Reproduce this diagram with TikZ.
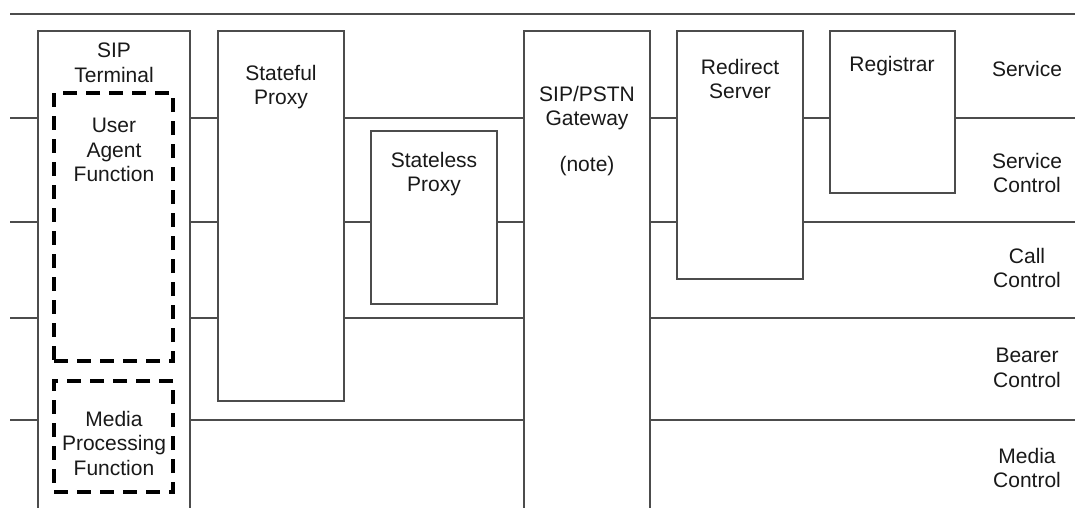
\documentclass[tikz,border=0pt]{standalone}
\usepackage{fontspec}
\setmainfont{Liberation Sans}
\begin{document}
\begin{tikzpicture}[x=1pt,y=-1pt,
  lay/.style={draw=black!70, line width=1.1pt},
  box/.style={draw=black!70, line width=1.1pt, fill=white, rectangle, anchor=north west, inner sep=0pt, outer sep=0pt},
  dbox/.style={draw=black, line width=3.2pt, dash pattern=on 14pt off 9pt, fill=white, rectangle, anchor=north west, inner sep=0pt, outer sep=0pt},
  lbl/.style={align=center, inner sep=0pt, text=black!90, font=\fontsize{21}{24.5}\selectfont}]
\useasboundingbox (0,0) rectangle (1075,507);
\clip (0,0) rectangle (1075,507);
\fill[white] (0,0) rectangle (1075,507);
% layer lines
\coordinate (l0a) at (10,14);  \coordinate (l0b) at (1075,14);
\coordinate (l1a) at (10,118); \coordinate (l1b) at (1075,118);
\coordinate (l2a) at (10,222); \coordinate (l2b) at (1075,222);
\coordinate (l3a) at (10,318); \coordinate (l3b) at (1075,318);
\coordinate (l4a) at (10,420); \coordinate (l4b) at (1075,420);
\draw[lay] (l0a) -- (l0b);
\draw[lay] (l1a) -- (l1b);
\draw[lay] (l2a) -- (l2b);
\draw[lay] (l3a) -- (l3b);
\draw[lay] (l4a) -- (l4b);
% boxes
\node[box, minimum width=152pt, minimum height=500pt] (term) at (38,31) {};
\node[dbox, minimum width=119pt, minimum height=268pt] (ua) at (54,93) {};
\node[dbox, minimum width=119pt, minimum height=111pt] (media) at (54,381) {};
\node[box, minimum width=126pt, minimum height=370pt] (sful) at (218,31) {};
\node[box, minimum width=126pt, minimum height=173pt] (sless) at (371,131) {};
\node[box, minimum width=126pt, minimum height=500pt] (gw) at (524,31) {};
\node[box, minimum width=126pt, minimum height=248pt] (redir) at (677,31) {};
\node[box, minimum width=125pt, minimum height=162pt] (reg) at (830,31) {};
% labels in boxes
\node[lbl] (tTerm) at (114,63) {SIP\\Terminal};
\node[lbl] (tUa) at (114,150) {User\\Agent\\Function};
\node[lbl] (tMedia) at (114,443) {Media\\Processing\\Function};
\node[lbl] (tSful) at (281,87) {Stateful\\Proxy};
\node[lbl] (tSless) at (434,174) {Stateless\\Proxy};
\node[lbl] (tGw) at (587,108) {SIP/PSTN\\Gateway};
\node[lbl] (tNote) at (587,166) {(note)};
\node[lbl] (tRedir) at (740,79) {Redirect\\Server};
\node[lbl] (tReg) at (892,66) {Registrar};
% layer names
\node[lbl] (nSvc) at (1027,69) {Service};
\node[lbl] (nSvcC) at (1027,173) {Service\\Control};
\node[lbl] (nCall) at (1027,268) {Call\\Control};
\node[lbl] (nBear) at (1027,368) {Bearer\\Control};
\node[lbl] (nMed) at (1027,468) {Media\\Control};
\end{tikzpicture}
\end{document}
